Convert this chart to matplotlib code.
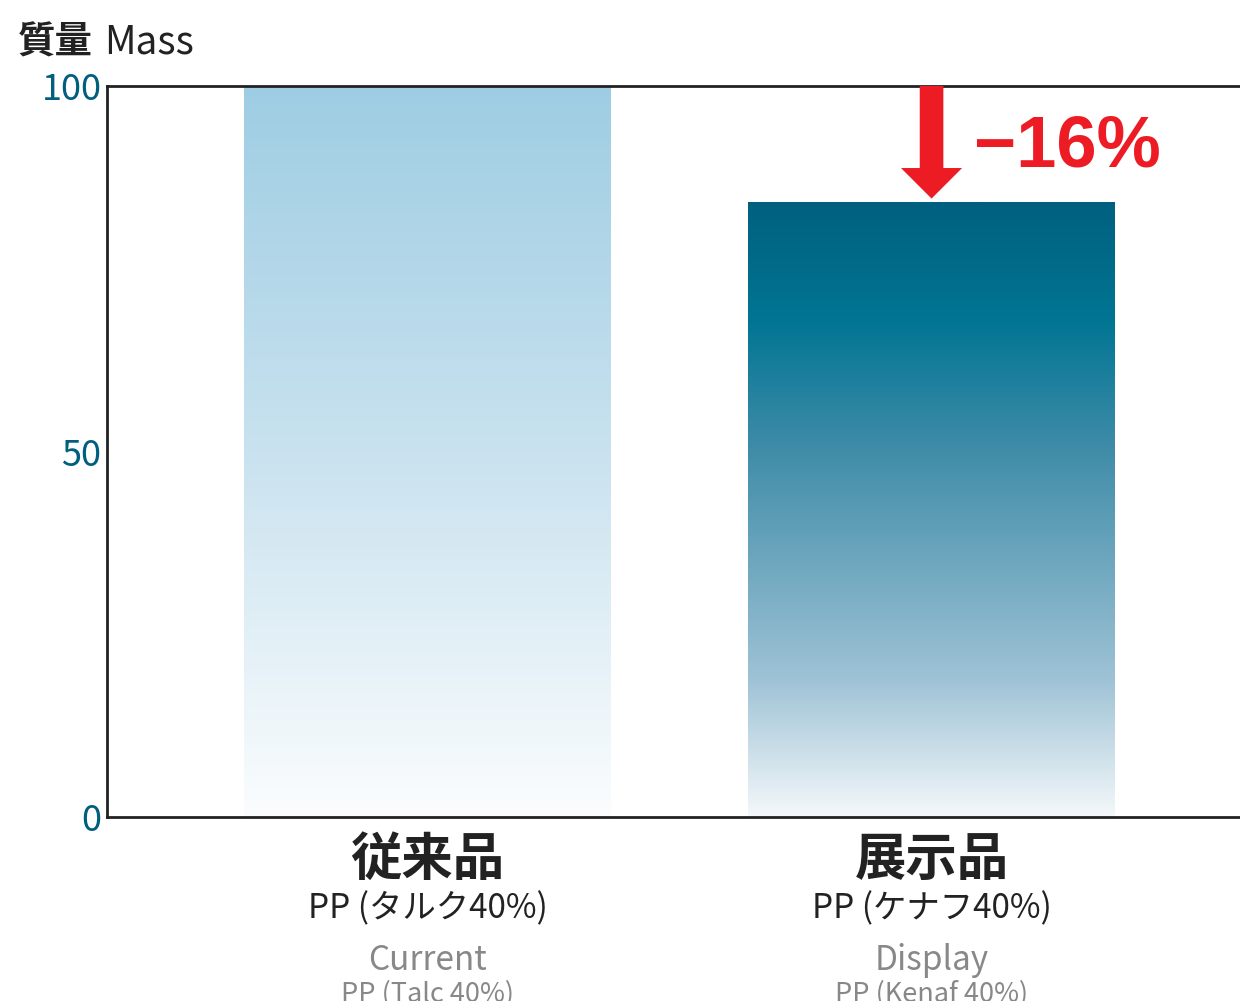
import numpy as np
import matplotlib.pyplot as plt
from matplotlib.colors import LinearSegmentedColormap

plt.rcParams['font.family'] = ['Noto Sans CJK JP', 'DejaVu Sans']

# data
categories_jp = ['従来品', '展示品']
materials_jp = ['PP (タルク40%)', 'PP (ケナフ40%)']
categories_en = ['Current', 'Display']
materials_en = ['PP (Talc 40%)', 'PP (Kenaf 40%)']
mass = [100, 84]
yticks = [0, 50, 100]
change_label = '−16%'

# gradient stops (position from bottom 0 -> top 1)
grad1 = [(0.0, '#fbfdfe'), (0.5, '#c9e2ef'), (1.0, '#9ecde3')]
grad2 = [(0.0, '#f4f8fa'), (0.22, '#9fc3d6'), (0.6, '#3f8ca8'), (0.81, '#007593'), (1.0, '#00607f')]

fig = plt.figure(figsize=(12.4, 10.01), dpi=100)
ax = fig.add_axes([107/1240, 1-817/1001, 1-107/1240, (817-86)/1001])

x = np.arange(len(mass))
w = 0.728
bars = ax.bar(x, mass, width=w, color='none', edgecolor='none')
for b, g in zip(bars, [grad1, grad2]):
    cmap = LinearSegmentedColormap.from_list('g', g)
    img = np.linspace(0, 1, 256).reshape(-1, 1)
    ax.imshow(img, cmap=cmap, origin='lower', aspect='auto',
              extent=[b.get_x(), b.get_x() + b.get_width(), 0, b.get_height()],
              zorder=1)

ax.set_xlim(-0.636, 1.612)
ax.set_ylim(0, 100)
ax.set_yticks(yticks)
ax.set_yticklabels([str(t) for t in yticks], fontsize=26, color='#005f7f')
ax.tick_params(axis='y', length=0, pad=4)
ax.set_xticks([])
for s in ['left', 'bottom', 'top']:
    ax.spines[s].set_linewidth(2)
    ax.spines[s].set_color('#222222')
ax.spines['right'].set_visible(False)

# reduction arrow
ax.annotate('', xy=(1, mass[1] + 0.6), xytext=(1, mass[0]),
            arrowprops=dict(arrowstyle='simple,head_width=2.2,tail_width=0.85,head_length=1.1',
                            mutation_scale=20, color='#ed1c24', lw=0, shrinkA=0, shrinkB=0),
            annotation_clip=False)
ax.text(1.085, 91.6, change_label, fontsize=52, fontweight='bold', color='#ed1c24',
        ha='left', va='center', family=['Liberation Sans', 'DejaVu Sans'])

# category labels
for xi, cj, mj, ce, me in zip(x, categories_jp, materials_jp, categories_en, materials_en):
    ax.text(xi, -2.2, cj, ha='center', va='top', fontsize=37, fontweight='bold', color='#222222')
    ax.text(xi, -10.2, mj, ha='center', va='top', fontsize=24, color='#222222')
    ax.text(xi, -17.2, ce, ha='center', va='top', fontsize=24, color='#888888')
    ax.text(xi, -22.3, me, ha='center', va='top', fontsize=19.5, color='#888888')

fig.text(18/1240, 1-42/1001, '質量', fontsize=27, fontweight='bold', color='#222222', va='center')
fig.text(104/1240, 1-42/1001, 'Mass', fontsize=28, color='#222222', va='center')

fig.savefig('out.png', dpi=100)
